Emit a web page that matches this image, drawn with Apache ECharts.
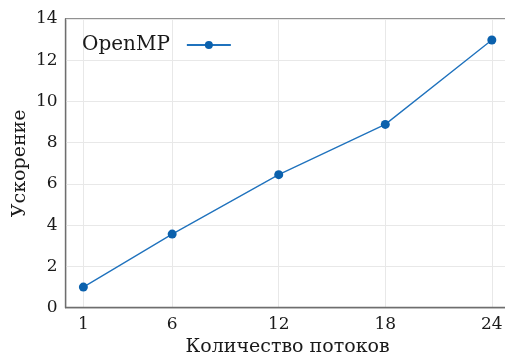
<!DOCTYPE html>
<html>
<head>
<meta charset="utf-8">
<script src="https://cdn.jsdelivr.net/npm/echarts@6/dist/echarts.min.js"></script>
<style>
  html, body { margin: 0; padding: 0; background: #fff; }
  #chart { width: 505px; height: 354px; }
</style>
</head>
<body>
<div id="chart"></div>
<script>
// Speedup versus number of threads
const threads = [1, 6, 12, 18, 24];
const speedup = [1.0, 3.57, 6.45, 8.89, 12.98];
const xTicks = [1, 6, 12, 18, 24];
const seriesName = 'OpenMP';
const xTitle = 'Количество потоков';
const yTitle = 'Ускорение';

const serif = 'DejaVu Serif';
const chart = echarts.init(document.getElementById('chart'), null, { renderer: 'canvas' });

chart.setOption({
  animation: false,
  backgroundColor: '#ffffff',
  grid: {
    left: 65.6,
    top: 19,
    width: 444,
    height: 288.7,
    show: true,
    borderColor: '#6e6e6e',
    borderWidth: 1.3,
    containLabel: false,
    outerBoundsMode: 'none'
  },
  legend: {
    left: 77,
    top: 30,
    align: 'right',
    itemWidth: 44,
    itemHeight: 10,
    textStyle: { fontFamily: serif, fontSize: 20, color: '#1a1a1a', padding: [0, 12, 0, 0] },
    data: [{ name: seriesName }]
  },
  xAxis: {
    type: 'value',
    min: 0,
    max: 25,
    name: xTitle,
    nameLocation: 'middle',
    nameGap: 25,
    nameTextStyle: { fontFamily: serif, fontSize: 19, color: '#1a1a1a' },
    axisLine: { show: true, lineStyle: { color: '#6e6e6e', width: 1.3 } },
    axisTick: { show: false, customValues: xTicks },
    axisLabel: {
      customValues: xTicks,
      fontFamily: serif, fontSize: 17, color: '#1a1a1a', margin: 8
    },
    splitLine: { show: true, lineStyle: { color: '#e8e8e8', width: 1 } }
  },
  yAxis: {
    type: 'value',
    min: 0,
    max: 14,
    interval: 2,
    name: yTitle,
    nameLocation: 'middle',
    nameGap: 36,
    nameMoveOverlap: false,
    nameTextStyle: { fontFamily: serif, fontSize: 19, color: '#1a1a1a' },
    axisLine: { show: true, lineStyle: { color: '#6e6e6e', width: 1.3 } },
    axisTick: { show: false },
    axisLabel: { fontFamily: serif, fontSize: 17, color: '#1a1a1a', margin: 8 },
    splitLine: { show: true, lineStyle: { color: '#e8e8e8', width: 1 } }
  },
  series: [{
    name: seriesName,
    type: 'line',
    data: threads.map((t, i) => [t, speedup[i]]),
    symbol: 'circle',
    symbolSize: 9,
    lineStyle: { color: '#1f72bd', width: 1.3 },
    itemStyle: { color: '#0b61ad' },
    z: 5
  }]
});
</script>
</body>
</html>
